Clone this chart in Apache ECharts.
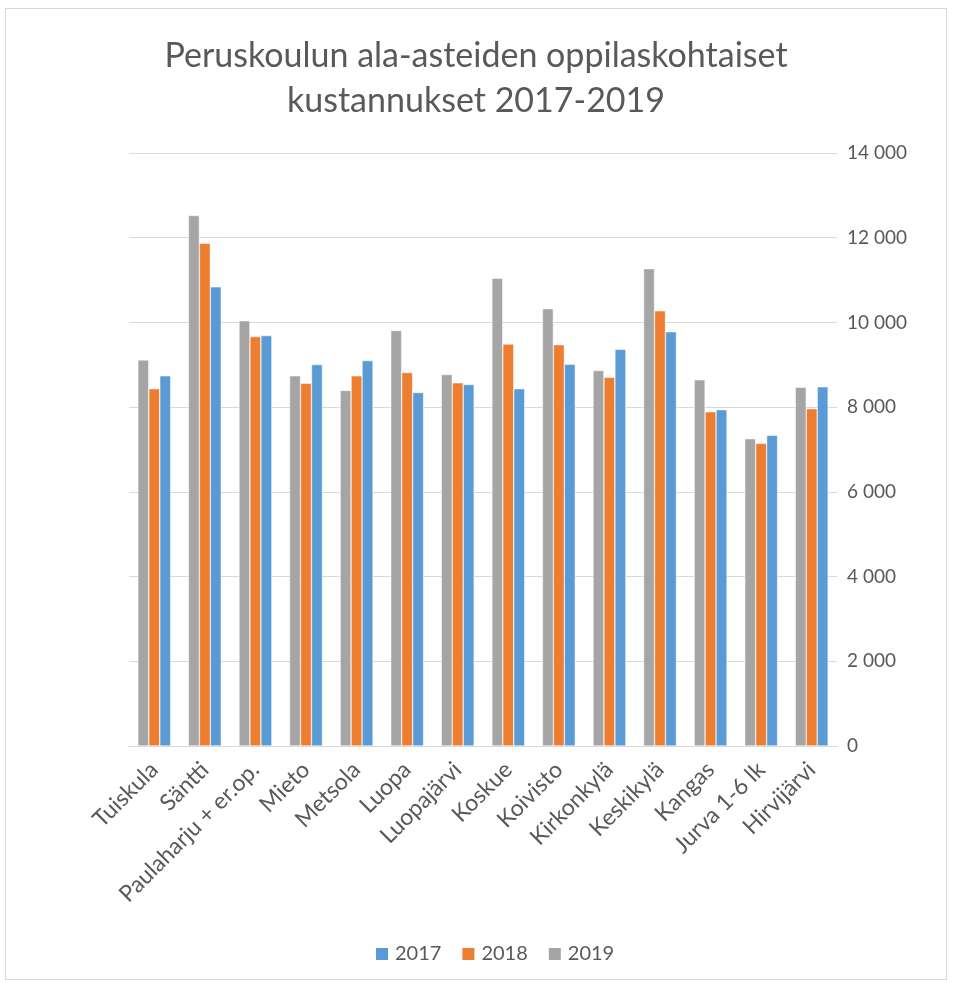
<!DOCTYPE html>
<html>
<head>
<meta charset="utf-8">
<script src="https://cdn.jsdelivr.net/npm/echarts@6/dist/echarts.min.js"></script>
<style>
    html, body { margin: 0; padding: 0; background: #fff; }
    #chart { position: absolute; left: 5px; top: 8px; width: 942px; height: 972px; border: 1px solid #d9d9d9; box-sizing: border-box; }
</style>
</head>
<body>
<div id="chart"></div>
<script>
var schools = ['Tuiskula', 'Säntti', 'Paulaharju + er.op.', 'Mieto', 'Metsola', 'Luopa', 'Luopajärvi',
    'Koskue', 'Koivisto', 'Kirkonkylä', 'Keskikylä', 'Kangas', 'Jurva 1-6 lk', 'Hirvijärvi'];

var cost_2017 = [8740, 10840, 9690, 9005, 9100, 8345, 8535, 8435, 9010, 9365, 9780, 7940, 7335, 8480];
var cost_2018 = [8435, 11870, 9665, 8565, 8740, 8815, 8575, 9490, 9475, 8705, 10275, 7890, 7145, 7965];
var cost_2019 = [9115, 12525, 10040, 8740, 8395, 9810, 8770, 11045, 10325, 8865, 11270, 8645, 7255, 8470];

var COLORS = {
    y2017: '#5b9bd5',
    y2018: '#ed7d31',
    y2019: '#a5a5a5'
};
var TEXT_COLOR = '#595959';
var FONT = 'Lato, "Open Sans", sans-serif';

function bar_series(name, data, color){
    return {
        type: 'bar',
        name: name,
        data: data,
        barGap: '0%',
        barCategoryGap: '35%',
        itemStyle: {
            color: color,
            borderColor: '#ffffff',
            borderWidth: 0.5
        }
    };
}

function format_thousands(value){
    return String(value).replace(/\B(?=(\d{3})+(?!\d))/g, ' ');
}

var chart = echarts.init(document.getElementById('chart'));
var options = {
    animation: false,
    textStyle: { fontFamily: FONT },
    title: {
        text: 'Peruskoulun ala-asteiden oppilaskohtaiset\nkustannukset 2017-2019',
        left: 'center',
        top: 20,
        textStyle: {
            color: TEXT_COLOR,
            fontSize: 34,
            fontWeight: 'normal',
            fontFamily: FONT,
            lineHeight: 45
        }
    },
    legend: {
        data: ['2017', '2018', '2019'],
        top: 930,
        left: 363,
        itemWidth: 14,
        itemHeight: 14,
        itemGap: 19,
        icon: 'rect',
        textStyle: { color: TEXT_COLOR, fontSize: 20, fontFamily: FONT, padding: [0, 0, 0, 1] }
    },
    grid: {
        left: 123,
        right: 109,
        top: 144,
        bottom: 233,
        containLabel: false
    },
    xAxis: {
        type: 'category',
        data: schools,
        axisLine: { lineStyle: { color: '#d9d9d9', width: 1 } },
        axisTick: { show: false },
        axisLabel: {
            rotate: 45,
            interval: 0,
            color: TEXT_COLOR,
            fontSize: 23,
            margin: 20,
            fontFamily: FONT
        }
    },
    yAxis: {
        type: 'value',
        position: 'right',
        min: 0,
        max: 14000,
        interval: 2000,
        axisLine: { show: false },
        axisTick: { show: false },
        splitLine: { lineStyle: { color: '#d9d9d9', width: 1 } },
        axisLabel: {
            color: TEXT_COLOR,
            fontSize: 19,
            margin: 10,
            fontFamily: FONT,
            formatter: format_thousands
        }
    },
    series: []
};
options.series.push(bar_series('2019', cost_2019, COLORS.y2019));
options.series.push(bar_series('2018', cost_2018, COLORS.y2018));
options.series.push(bar_series('2017', cost_2017, COLORS.y2017));
chart.setOption(options);
</script>
</body>
</html>
